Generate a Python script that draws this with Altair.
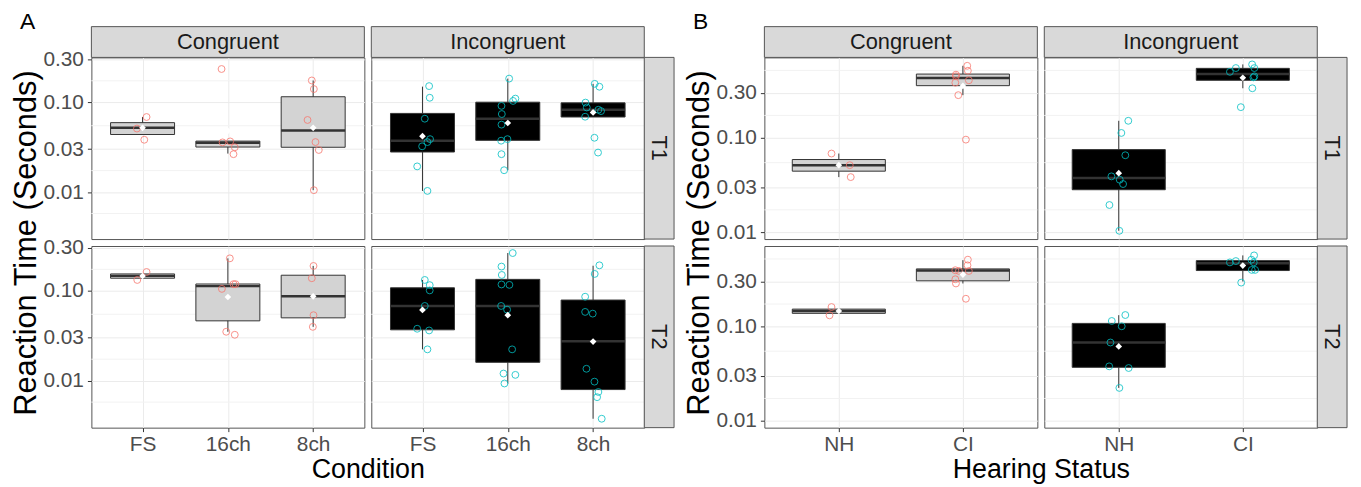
import altair as alt

FONT = "Liberation Sans"
W, H = 275, 183
STRIP_H, STRIP_W = 31, 30
GAP = 7
SPACER_W = 107
EDGE = "#333333"
BORDER = "#555555"
GRID = "#EBEBEB"
GRID_MINOR = "#F2F2F2"
STRIP_FILL = "#D9D9D9"
BOX_FILL = {"Congruent": "#D3D3D3", "Incongruent": "#000000"}
PT_COLOR = {"Congruent": "#F8766D", "Incongruent": "#00BFC4"}

groups_a = ["FS", "16ch", "8ch"]
groups_b = ["NH", "CI"]
major_breaks = [0.01, 0.03, 0.10, 0.30]
minor_breaks_a = [0.00577, 0.01732, 0.05477, 0.1732]
minor_breaks_b = [0.01732, 0.05477, 0.1732, 0.5196]
y_domain_a = [0.003, 0.315]
y_domain_b = [0.0085, 0.713]

# box stats per group: [lower whisker, q1, median, q3, upper whisker, mean]
# ---------------- Panel A ----------------
a_t1_con_box = {"FS": [0.0437, 0.0437, 0.0518, 0.0592, 0.0684, 0.0518],
                "16ch": [0.0268, 0.0317, 0.0354, 0.0369, 0.0369, 0.048],
                "8ch": [0.0105, 0.0315, 0.0484, 0.115, 0.1745, 0.0518]}
a_t1_con_pts = {"FS": [0.0684, 0.0509, 0.0382],
                "16ch": [0.234, 0.0357, 0.0366, 0.0315, 0.0264],
                "8ch": [0.1745, 0.140, 0.0634, 0.036, 0.0294, 0.0105]}
a_t1_con_jit = {"FS": [0.047, -0.066, 0.02],
                "16ch": [-0.074, -0.062, 0.027, 0.081, 0.066],
                "8ch": [-0.016, 0.008, -0.066, 0.027, 0.066, 0.008]}

a_t1_inc_box = {"FS": [0.0103, 0.0279, 0.0373, 0.075, 0.149, 0.0419],
                "16ch": [0.0175, 0.0376, 0.0655, 0.100, 0.183, 0.0587],
                "8ch": [0.0684, 0.0684, 0.0823, 0.0983, 0.160, 0.0769]}
a_t1_inc_pts = {"FS": [0.151, 0.112, 0.0655, 0.0388, 0.036, 0.0323, 0.0193, 0.0103],
                "16ch": [0.183, 0.1096, 0.1033, 0.091, 0.0738, 0.0563, 0.0388, 0.0373, 0.0264, 0.0175],
                "8ch": [0.160, 0.1486, 0.099, 0.0873, 0.0823, 0.0796, 0.0689, 0.0402, 0.0275]}
a_t1_inc_jit = {"FS": [0.078, 0.085, 0.027, 0.089, 0.058, -0.004, -0.062, 0.058],
                "16ch": [0.016, 0.089, 0.062, -0.074, -0.070, -0.074, -0.004, -0.078, -0.074, -0.043],
                "8ch": [0.019, 0.074, -0.089, -0.074, 0.062, 0.093, -0.093, 0.016, 0.058]}

a_t2_con_box = {"FS": [0.138, 0.138, 0.1465, 0.154, 0.154, 0.146],
                "16ch": [0.035, 0.0463, 0.1127, 0.119, 0.2296, 0.0852],
                "8ch": [0.0397, 0.050, 0.0867, 0.149, 0.189, 0.0867]}
a_t2_con_pts = {"FS": [0.132, 0.162],
                "16ch": [0.2296, 0.105, 0.1186, 0.1186, 0.035, 0.0324],
                "8ch": [0.189, 0.138, 0.0535, 0.0397]}
a_t2_con_jit = {"FS": [-0.062, 0.047],
                "16ch": [0.023, -0.07, 0.066, 0.089, -0.019, 0.081],
                "8ch": [0.004, -0.016, 0.004, -0.004]}

a_t2_inc_box = {"FS": [0.0223, 0.0368, 0.0678, 0.108, 0.132, 0.0612],
                "16ch": [0.0093, 0.0160, 0.0678, 0.134, 0.263, 0.0535],
                "8ch": [0.00377, 0.00796, 0.0274, 0.0789, 0.19, 0.0272]}
a_t2_inc_pts = {"FS": [0.132, 0.1156, 0.101, 0.0678, 0.0378, 0.0362, 0.0223],
                "16ch": [0.263, 0.186, 0.150, 0.1176, 0.1164, 0.0678, 0.0617, 0.0223, 0.012, 0.0116, 0.0093],
                "8ch": [0.192, 0.154, 0.0859, 0.0582, 0.0557, 0.01356, 0.00975, 0.00748, 0.00655, 0.00377]}
a_t2_inc_jit = {"FS": [0.027, 0.085, 0.085, 0.027, -0.062, 0.078, 0.058],
                "16ch": [0.058, -0.074, -0.07, -0.074, 0.019, -0.078, -0.008, 0.051, -0.05, 0.089, -0.039],
                "8ch": [0.074, 0.019, -0.093, -0.093, -0.004, -0.078, 0.016, 0.062, 0.047, 0.101]}

# ---------------- Panel B ----------------
b_t1_con_box = {"NH": [0.0385, 0.0445, 0.0515, 0.0591, 0.0684, 0.0515],
                "CI": [0.284, 0.358, 0.431, 0.475, 0.581, 0.356]}
b_t1_con_pts = {"NH": [0.0684, 0.0515, 0.0385],
                "CI": [0.581, 0.515, 0.468, 0.45, 0.385, 0.408, 0.284, 0.096]}
b_t1_con_jit = {"NH": [-0.059, 0.088, 0.096],
                "CI": [0.035, 0.04, -0.056, -0.056, -0.061, 0.048, -0.037, 0.024]}

b_t1_inc_box = {"NH": [0.0104, 0.0283, 0.0376, 0.0753, 0.152, 0.0424],
                "CI": [0.336, 0.408, 0.475, 0.546, 0.601, 0.434]}
b_t1_inc_pts = {"NH": [0.152, 0.113, 0.0656, 0.0392, 0.0361, 0.0325, 0.0195, 0.0104],
                "CI": [0.601, 0.55, 0.55, 0.502, 0.449, 0.438, 0.336, 0.212]}
b_t1_inc_jit = {"NH": [0.077, 0.021, 0.053, -0.059, 0.008, 0.035, -0.075, 0.005],
                "CI": [0.075, 0.093, -0.056, -0.104, 0.093, 0.085, 0.077, -0.016]}

b_t2_con_box = {"NH": [0.138, 0.138, 0.146, 0.153, 0.153, 0.146],
                "CI": [0.286, 0.305, 0.392, 0.408, 0.505, 0.355]}
b_t2_con_pts = {"NH": [0.161, 0.1315],
                "CI": [0.511, 0.445, 0.395, 0.388, 0.388, 0.317, 0.286, 0.197]}
b_t2_con_jit = {"NH": [-0.059, -0.075],
                "CI": [0.04, 0.037, -0.061, -0.032, 0.048, -0.061, -0.056, 0.024]}

b_t2_inc_box = {"NH": [0.0224, 0.037, 0.0678, 0.108, 0.132, 0.0616],
                "CI": [0.30, 0.392, 0.467, 0.499, 0.567, 0.442]}
b_t2_inc_pts = {"NH": [0.1325, 0.1146, 0.1007, 0.0678, 0.0379, 0.0364, 0.0224],
                "CI": [0.567, 0.511, 0.494, 0.478, 0.478, 0.398, 0.398, 0.292]}
b_t2_inc_jit = {"NH": [0.053, -0.056, 0.024, -0.067, -0.077, 0.08, 0.005],
                "CI": [0.091, 0.069, -0.056, -0.104, 0.088, 0.072, 0.099, -0.013]}


def build_panel(letter, groups, cond, time, box, pts, jit, col, row,
                ydom, minors, xtitle):
    n = len(groups)
    xscale = alt.Scale(domain=[0.4, n + 0.6], nice=False, zero=False)
    yscale = alt.Scale(type="log", domain=ydom, nice=False)

    if col == 0:
        yargs = dict(values=major_breaks, format=".2f", grid=True, gridColor=GRID,
                     gridWidth=1, domain=False, ticks=True, tickColor=EDGE, tickSize=4,
                     labelFontSize=21, labelColor="#4D4D4D", labelPadding=4,
                     labelFont=FONT, labelOverlap=False, labelFlush=False)
        if row == 0:
            yargs.update(title="Reaction Time (Seconds)", titleFont=FONT, titleFontSize=31,
                         titleFontWeight="normal", titleColor="black", titleX=-56,
                         titleY=(2 * H + GAP) / 2, titleBaseline="alphabetic",
                         titleAngle=270, titleAlign="center")
        else:
            yargs.update(title=None)
        yaxis = alt.Axis(**yargs)
    else:
        yaxis = alt.Axis(values=major_breaks, grid=True, gridColor=GRID, gridWidth=1,
                         labels=False, ticks=False, domain=False, title=None)

    label_expr = "[" + ",".join("'%s'" % g for g in groups) + "][datum.value - 1]"
    if row == 1:
        xargs = dict(values=list(range(1, n + 1)), labelExpr=label_expr, grid=True,
                     gridColor=GRID, gridWidth=1, domain=False, ticks=True, tickColor=EDGE,
                     tickSize=4, labelFontSize=21, labelColor="#4D4D4D", labelPadding=2,
                     labelFont=FONT, labelFlush=False, labelOverlap=False)
        if col == 0:
            xargs.update(title=xtitle, titleFont=FONT, titleFontSize=27,
                         titleFontWeight="normal", titleColor="black",
                         titleX=W + GAP / 2, titleY=50, titleBaseline="alphabetic",
                         titleAlign="center")
        else:
            xargs.update(title=None)
        xaxis = alt.Axis(**xargs)
    else:
        xaxis = alt.Axis(values=list(range(1, n + 1)), grid=True, gridColor=GRID,
                         gridWidth=1, labels=False, ticks=False, domain=False, title=None)

    def X(f):
        return alt.X(f + ":Q", scale=xscale, axis=xaxis)

    def Y(f):
        return alt.Y(f + ":Q", scale=yscale, axis=yaxis)

    box_rows = []
    pt_rows = []
    for i, g in enumerate(groups):
        lo, q1, med, q3, hi, mu = box[g]
        box_rows.append({"g": g, "idx": i + 1, "lo": lo, "q1": q1, "med": med,
                         "q3": q3, "hi": hi, "mu": mu})
        for v, j in zip(pts[g], jit[g]):
            pt_rows.append({"g": g, "idx": i + 1, "jit": j, "v": v})
    box_data = alt.Data(values=box_rows)
    pt_data = alt.Data(values=pt_rows)

    layers = []
    layers.append(alt.Chart(alt.Data(values=[{"m": m} for m in minors]))
                  .mark_rule(color=GRID_MINOR, strokeWidth=1)
                  .encode(y=Y("m")))
    layers.append(alt.Chart(box_data).mark_rule(color=EDGE, strokeWidth=1)
                  .encode(x=X("idx"), y=Y("lo"), y2=alt.Y2("hi")))
    layers.append(alt.Chart(box_data)
                  .transform_calculate(xl="datum.idx - 0.375", xr="datum.idx + 0.375")
                  .mark_rect(fill=BOX_FILL[cond], stroke=EDGE, strokeWidth=1)
                  .encode(x=X("xl"), x2=alt.X2("xr"), y=Y("q1"), y2=alt.Y2("q3")))
    layers.append(alt.Chart(box_data)
                  .transform_calculate(xl="datum.idx - 0.375", xr="datum.idx + 0.375")
                  .mark_rule(color=EDGE, strokeWidth=2.5)
                  .encode(x=X("xl"), x2=alt.X2("xr"), y=Y("med")))
    layers.append(alt.Chart(pt_data)
                  .transform_calculate(xp="datum.idx + datum.jit")
                  .mark_point(shape="circle", filled=False, size=48, strokeWidth=1,
                              color=PT_COLOR[cond], opacity=0.8)
                  .encode(x=X("xp"), y=Y("v")))
    layers.append(alt.Chart(box_data)
                  .mark_point(shape="diamond", filled=True, size=45, color="white",
                              opacity=1)
                  .encode(x=X("idx"), y=Y("mu")))

    if row == 0:
        sd = alt.Data(values=[{"s": cond}])
        layers.append(alt.Chart(sd).mark_rect(fill=STRIP_FILL, stroke=BORDER, strokeWidth=1)
                      .encode(x=alt.value(0), x2=alt.value(W),
                              y=alt.value(-STRIP_H), y2=alt.value(0)))
        layers.append(alt.Chart(sd).mark_text(font=FONT, fontSize=22, color="#1A1A1A",
                                              baseline="middle", align="center")
                      .encode(text="s:N", x=alt.value(W / 2), y=alt.value(-STRIP_H / 2)))
    if col == 1:
        rd = alt.Data(values=[{"s": time}])
        layers.append(alt.Chart(rd).mark_rect(fill=STRIP_FILL, stroke=BORDER, strokeWidth=1)
                      .encode(x=alt.value(W), x2=alt.value(W + STRIP_W),
                              y=alt.value(0), y2=alt.value(H)))
        layers.append(alt.Chart(rd).mark_text(font=FONT, fontSize=22, color="#1A1A1A",
                                              baseline="middle", align="center", angle=90)
                      .encode(text="s:N", x=alt.value(W + STRIP_W / 2), y=alt.value(H / 2)))
    if row == 0 and col == 0:
        td = alt.Data(values=[{"t": letter}])
        layers.append(alt.Chart(td).mark_text(font=FONT, fontSize=23, color="black",
                                              align="left", baseline="alphabetic")
                      .encode(text="t:N", x=alt.value(-72), y=alt.value(-29)))

    return alt.layer(*layers).properties(width=W, height=H)


def spacer():
    return (alt.Chart(alt.Data(values=[{"s": ""}]))
            .mark_text()
            .encode(text="s:N", x=alt.value(0), y=alt.value(0))
            .properties(width=SPACER_W, height=H,
                        view=alt.ViewBackground(stroke="transparent")))


cells = [
    build_panel("A", groups_a, "Congruent", "T1", a_t1_con_box, a_t1_con_pts, a_t1_con_jit,
                0, 0, y_domain_a, minor_breaks_a, "Condition"),
    build_panel("A", groups_a, "Incongruent", "T1", a_t1_inc_box, a_t1_inc_pts, a_t1_inc_jit,
                1, 0, y_domain_a, minor_breaks_a, "Condition"),
    spacer(),
    build_panel("B", groups_b, "Congruent", "T1", b_t1_con_box, b_t1_con_pts, b_t1_con_jit,
                0, 0, y_domain_b, minor_breaks_b, "Hearing Status"),
    build_panel("B", groups_b, "Incongruent", "T1", b_t1_inc_box, b_t1_inc_pts, b_t1_inc_jit,
                1, 0, y_domain_b, minor_breaks_b, "Hearing Status"),
    build_panel("A", groups_a, "Congruent", "T2", a_t2_con_box, a_t2_con_pts, a_t2_con_jit,
                0, 1, y_domain_a, minor_breaks_a, "Condition"),
    build_panel("A", groups_a, "Incongruent", "T2", a_t2_inc_box, a_t2_inc_pts, a_t2_inc_jit,
                1, 1, y_domain_a, minor_breaks_a, "Condition"),
    spacer(),
    build_panel("B", groups_b, "Congruent", "T2", b_t2_con_box, b_t2_con_pts, b_t2_con_jit,
                0, 1, y_domain_b, minor_breaks_b, "Hearing Status"),
    build_panel("B", groups_b, "Incongruent", "T2", b_t2_inc_box, b_t2_inc_pts, b_t2_inc_jit,
                1, 1, y_domain_b, minor_breaks_b, "Hearing Status"),
]

chart = (alt.concat(*cells, columns=5, spacing=GAP, bounds="flush")
         .properties(padding={"left": 2, "top": 0, "right": 5, "bottom": 0})
         .configure(font=FONT)
         .configure_view(stroke=BORDER, strokeWidth=1))

chart.save("out.html", embed_options={"renderer": "svg", "actions": False})
